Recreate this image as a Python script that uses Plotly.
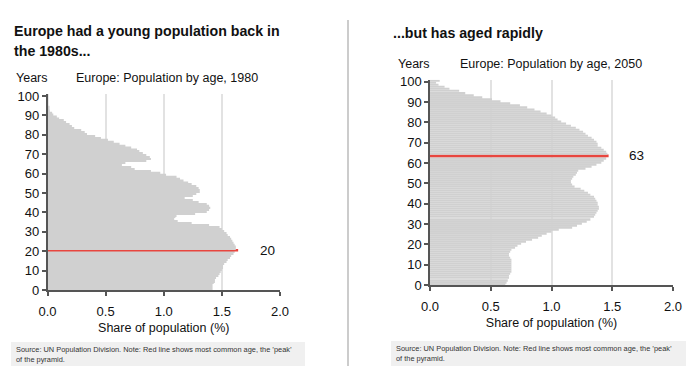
import plotly.graph_objects as go

ages = list(range(0, 101))

share_1980 = [
    1.42, 1.42, 1.42, 1.43, 1.44, 1.44, 1.45, 1.47, 1.48, 1.49,
    1.50, 1.51, 1.51, 1.52, 1.54, 1.55, 1.57, 1.58, 1.60, 1.61,
    1.64, 1.62, 1.62, 1.61, 1.60, 1.59, 1.58, 1.57, 1.55, 1.54,
    1.52, 1.50, 1.48, 1.39, 1.24, 1.12, 1.09, 1.10, 1.11, 1.27,
    1.37, 1.39, 1.40, 1.39, 1.37, 1.30, 1.25, 1.18, 1.25, 1.28,
    1.31, 1.31, 1.30, 1.28, 1.24, 1.21, 1.17, 1.14, 1.11, 1.02,
    0.97, 0.89, 0.75, 0.72, 0.64, 0.67, 0.85, 0.89, 0.88, 0.85,
    0.82, 0.79, 0.77, 0.72, 0.67, 0.62, 0.57, 0.52, 0.46, 0.41,
    0.34, 0.32, 0.29, 0.23, 0.21, 0.19, 0.16, 0.14, 0.10, 0.08,
    0.05, 0.04, 0.02, 0.01, 0.01, 0.005, 0.004, 0.003, 0.002, 0.001,
    0.001,
]

share_2050 = [
    0.62, 0.63, 0.64, 0.65, 0.65, 0.66, 0.67, 0.67, 0.67, 0.67,
    0.67, 0.67, 0.67, 0.66, 0.65, 0.65, 0.66, 0.67, 0.70, 0.72,
    0.75, 0.79, 0.84, 0.89, 0.92, 0.96, 1.00, 1.06, 1.17, 1.21,
    1.25, 1.29, 1.32, 1.35, 1.36, 1.37, 1.38, 1.39, 1.39, 1.38,
    1.38, 1.37, 1.36, 1.35, 1.32, 1.30, 1.27, 1.24, 1.19, 1.17,
    1.16, 1.16, 1.17, 1.18, 1.20, 1.21, 1.22, 1.28, 1.33, 1.37,
    1.41, 1.43, 1.45, 1.47, 1.46, 1.45, 1.43, 1.41, 1.38, 1.38,
    1.37, 1.35, 1.33, 1.30, 1.28, 1.26, 1.23, 1.20, 1.16, 1.12,
    1.08, 1.05, 1.03, 1.00, 0.96, 0.91, 0.86, 0.80, 0.74, 0.66,
    0.58, 0.51, 0.43, 0.36, 0.29, 0.24, 0.16, 0.12, 0.07, 0.05,
    0.08,
]

x_ticks = [0.0, 0.5, 1.0, 1.5, 2.0]
x_tick_labels = ["0.0", "0.5", "1.0", "1.5", "2.0"]
y_ticks = list(range(0, 101, 10))

title_left_lines = ["Europe had a young population back in", "the 1980s..."]
title_right = "...but has aged rapidly"
subtitles = ["Europe: Population by age, 1980", "Europe: Population by age, 2050"]
source_text = "Source: UN Population Division. Note: Red line shows most common age, the \u2019peak\u2019<br>of the pyramid."

GREY = "#d0d0d0"
RED = "#e8463f"
FONT = "Liberation Sans, Arial, sans-serif"
TXT = 12.5

W, H = 696, 390

def px_x(p):
    return p / W

def px_y(p):
    return 1 - p / H

panels = [
    dict(data=share_1980, xd=[px_x(47.5), px_x(280)], yd=[px_y(290), px_y(94)], xa="x", ya="y", lab_off=0.17),
    dict(data=share_2050, xd=[px_x(430), px_x(673)], yd=[px_y(285), px_y(79.7)], xa="x2", ya="y2", lab_off=0.15),
]

fig = go.Figure()
annotations = []
shapes = []

for i, p in enumerate(panels):
    vals = p["data"]
    peak = max(range(len(vals)), key=lambda k: vals[k])
    colors = [RED if k == peak else GREY for k in range(len(vals))]
    widths = [1.3 if k == peak else 0.78 for k in range(len(vals))]
    offsets = [0.5 - w / 2 for w in widths]
    fig.add_trace(go.Bar(
        x=vals, y=ages, orientation="h",
        marker=dict(color=colors, line=dict(width=0)),
        width=widths, offset=offsets,
        xaxis=p["xa"], yaxis=p["ya"], showlegend=False, hoverinfo="skip",
    ))
    annotations.append(dict(
        x=vals[peak] + p["lab_off"], y=ages[peak] + 0.5, xref=p["xa"], yref=p["ya"],
        text=str(ages[peak]), showarrow=False, xanchor="left", yanchor="middle",
        font=dict(family=FONT, size=13.5, color="#111"),
    ))

ax_common = dict(
    showline=True, linecolor="#555", linewidth=1.5, ticks="outside", tickcolor="#555",
    ticklen=4, tickwidth=1.5, zeroline=False,
    tickfont=dict(family=FONT, size=13, color="#111"),
)

layout_axes = {}
for i, p in enumerate(panels):
    sx = "xaxis" if i == 0 else "xaxis2"
    sy = "yaxis" if i == 0 else "yaxis2"
    layout_axes[sx] = dict(
        ax_common, domain=p["xd"], range=[0, 2.0], anchor=p["ya"],
        tickvals=x_ticks, ticktext=x_tick_labels, showgrid=True, gridcolor="#e2e2e2", gridwidth=1.5,
        ticklabelstandoff=5,
        title=dict(text="Share of population (%)", font=dict(family=FONT, size=TXT, color="#111"), standoff=5),
    )
    layout_axes[sy] = dict(
        ax_common, domain=p["yd"], range=[0, 101], anchor=p["xa"],
        tickvals=y_ticks, showgrid=False,
    )

title_font = dict(family=FONT, size=14.2, color="#111")
annotations += [
    dict(x=px_x(12), y=px_y(31), xref="paper", yref="paper", text="<b>" + title_left_lines[0] + "</b>",
         showarrow=False, xanchor="left", yanchor="middle", font=title_font),
    dict(x=px_x(12), y=px_y(51), xref="paper", yref="paper", text="<b>" + title_left_lines[1] + "</b>",
         showarrow=False, xanchor="left", yanchor="middle", font=title_font),
    dict(x=px_x(391), y=px_y(33), xref="paper", yref="paper", text="<b>" + title_right + "</b>",
         showarrow=False, xanchor="left", yanchor="middle", font=title_font),
    dict(x=px_x(14), y=px_y(78), xref="paper", yref="paper", text="Years",
         showarrow=False, xanchor="left", yanchor="middle", font=dict(family=FONT, size=TXT, color="#111")),
    dict(x=px_x(74), y=px_y(78), xref="paper", yref="paper", text=subtitles[0],
         showarrow=False, xanchor="left", yanchor="middle", font=dict(family=FONT, size=TXT, color="#111")),
    dict(x=px_x(396), y=px_y(64), xref="paper", yref="paper", text="Years",
         showarrow=False, xanchor="left", yanchor="middle", font=dict(family=FONT, size=TXT, color="#111")),
    dict(x=px_x(458), y=px_y(64), xref="paper", yref="paper", text=subtitles[1],
         showarrow=False, xanchor="left", yanchor="middle", font=dict(family=FONT, size=TXT, color="#111")),
    dict(x=px_x(14), y=px_y(354), xref="paper", yref="paper", text=source_text,
         showarrow=False, xanchor="left", yanchor="middle", align="left",
         font=dict(family=FONT, size=7.4, color="#333")),
    dict(x=px_x(394), y=px_y(353), xref="paper", yref="paper", text=source_text,
         showarrow=False, xanchor="left", yanchor="middle", align="left",
         font=dict(family=FONT, size=7.4, color="#333")),
]

shapes += [
    dict(type="rect", xref="paper", yref="paper", x0=px_x(11), x1=px_x(305), y0=px_y(366), y1=px_y(342),
         fillcolor="#f0f0f0", line=dict(width=0), layer="below"),
    dict(type="rect", xref="paper", yref="paper", x0=px_x(391), x1=px_x(686), y0=px_y(366), y1=px_y(341),
         fillcolor="#f0f0f0", line=dict(width=0), layer="below"),
    dict(type="line", xref="paper", yref="paper", x0=px_x(348), x1=px_x(348), y0=px_y(366), y1=px_y(20),
         line=dict(color="#bbbbbb", width=1.5)),
]

fig.update_layout(
    width=W, height=H, margin=dict(l=0, r=0, t=0, b=0, autoexpand=False),
    paper_bgcolor="white", plot_bgcolor="white",
    bargap=0.2, annotations=annotations, shapes=shapes,
    **layout_axes,
)

fig.write_html(
    "out.html",
    config={"displayModeBar": False},
    post_script="document.body.style.margin='0';document.body.style.overflow='hidden';",
)
